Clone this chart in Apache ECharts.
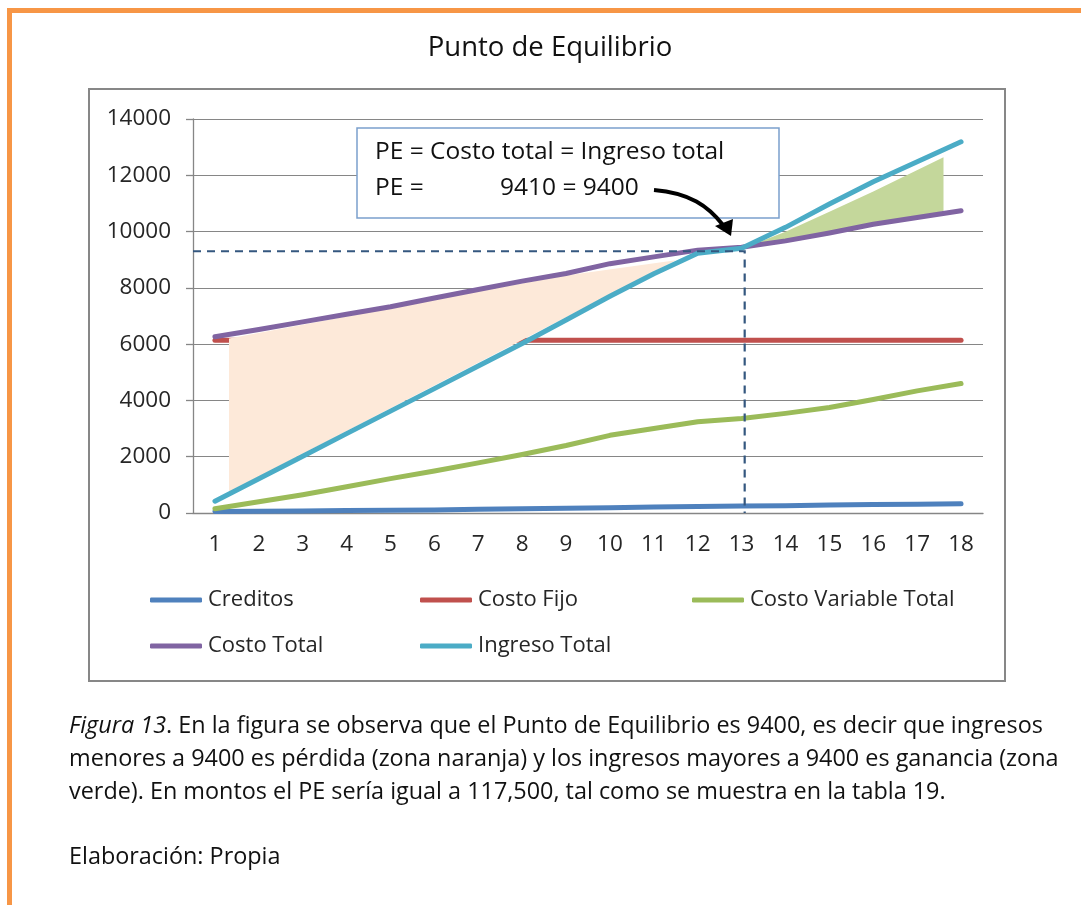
<!DOCTYPE html>
<html>
<head>
<meta charset="utf-8">
<title>Punto de Equilibrio</title>
<script src="https://cdn.jsdelivr.net/npm/echarts@6/dist/echarts.min.js"></script>
<style>
  html, body { margin: 0; padding: 0; background: #fff; }
  #main { width: 1081px; height: 905px; }
</style>
</head>
<body>
<div id="main"></div>
<script>
// datos
const categories = ['1', '2', '3', '4', '5', '6', '7', '8', '9', '10', '11', '12', '13', '14', '15', '16', '17', '18'];
const creditos = [50, 60, 70, 85, 95, 110, 130, 150, 170, 190, 210, 230, 250, 260, 280, 300, 315, 330];
const costoFijo = [6140, 6140, 6140, 6140, 6140, 6140, 6140, 6140, 6140, 6140, 6140, 6140, 6140, 6140, 6140, 6140, 6140, 6140];
const costoVariable = [150, 400, 650, 930, 1220, 1490, 1780, 2080, 2400, 2760, 3000, 3240, 3360, 3540, 3750, 4030, 4340, 4600];
const costoTotal = [6260, 6520, 6790, 7060, 7330, 7640, 7940, 8240, 8510, 8860, 9100, 9340, 9440, 9670, 9950, 10260, 10500, 10740];
const ingresoTotal = [420, 1220, 2020, 2820, 3620, 4420, 5220, 6020, 6860, 7700, 8500, 9230, 9410, 10150, 10980, 11770, 12480, 13190];
const yTicks = [0, 14000, 2000];

// zonas dibujadas a mano (x en unidades de categoria, y en valor)
const zonaPerdida = [[1.32, 6200], [4, 6980], [7, 7880], [9, 8440], [11.5, 8980], [1.32, 750]];
const zonaGanancia = [[13.05, 9420], [14, 9990], [15, 10700], [16, 11420], [17.6, 12640], [17.6, 10720], [16, 10200], [14, 9640]];
const lineaPE = [[0.5, 9300], [13.07, 9300], [13.07, 0]];

const seriesNames = ['Creditos', 'Costo Fijo', 'Costo Variable Total', 'Costo Total', 'Ingreso Total'];
const seriesData = [creditos, costoFijo, costoVariable, costoTotal, ingresoTotal];
const colors = ['#4f81bd', '#c0504d', '#9bbb59', '#8064a2', '#4bacc6'];

const FONT = 'Open Sans';
const chart = echarts.init(document.getElementById('main'), null, { renderer: 'canvas' });

function polygonItem(points, fill) {
  return function (params, api) {
    return {
      type: 'polygon',
      shape: { points: points.map(p => api.coord(p)) },
      style: { fill: fill }
    };
  };
}

const lineSeries = seriesNames.map((name, i) => ({
  name: name,
  type: 'line',
  data: seriesData[i],
  symbol: 'none',
  z: i === 1 ? 2 : 4,
  lineStyle: { width: 5, color: colors[i], cap: 'round', join: 'round' },
  itemStyle: { color: colors[i] }
}));

const legendPos = [[150, 588], [420, 588], [692, 588], [150, 634], [420, 634]];
const legends = seriesNames.map((name, i) => ({
  data: [name],
  left: legendPos[i][0],
  top: legendPos[i][1],
  padding: 0,
  icon: 'roundRect',
  itemWidth: 52,
  itemHeight: 5,
  itemGap: 0,
  selectedMode: false,
  textStyle: { fontFamily: FONT, fontSize: 22, color: '#262626', lineHeight: 24, padding: [0, 0, 0, 1] }
}));

const option = {
  animation: false,
  backgroundColor: '#ffffff',
  color: colors,
  legend: legends,
  grid: { left: 193, right: 98, top: 119, bottom: 392, containLabel: false },
  xAxis: [{
    type: 'category',
    data: categories,
    boundaryGap: true,
    axisLine: { lineStyle: { color: '#868686', width: 1.3 } },
    axisTick: { length: 7, lineStyle: { color: '#868686', width: 1.3 } },
    axisLabel: { margin: 20, fontFamily: FONT, fontSize: 22.5, color: '#262626' },
    splitLine: { show: false }
  }, {
    type: 'value',
    min: 0.5,
    max: 18.5,
    show: false
  }],
  yAxis: {
    type: 'value',
    min: yTicks[0],
    max: yTicks[1],
    interval: yTicks[2],
    axisLine: { show: true, lineStyle: { color: '#868686', width: 1.3 } },
    axisTick: { show: true, length: 7, lineStyle: { color: '#868686', width: 1.3 } },
    axisLabel: { margin: 22, fontFamily: FONT, fontSize: 22.5, color: '#262626', formatter: v => String(v) },
    splitLine: { lineStyle: { color: '#868686', width: 1.2 } }
  },
  series: lineSeries.concat([
    {
      type: 'custom',
      xAxisIndex: 1,
      z: 3,
      silent: true,
      data: [0],
      renderItem: polygonItem(zonaPerdida, '#fde9d9')
    },
    {
      type: 'custom',
      xAxisIndex: 1,
      z: 3,
      silent: true,
      data: [0],
      renderItem: polygonItem(zonaGanancia, '#c4d79b')
    },
    {
      type: 'custom',
      xAxisIndex: 1,
      z: 5,
      silent: true,
      data: [0],
      renderItem: function (params, api) {
        return {
          type: 'polyline',
          shape: { points: lineaPE.map(p => api.coord(p)) },
          style: { stroke: '#34577f', lineWidth: 2.2, lineDash: [8, 6], fill: null }
        };
      }
    }
  ]),
  graphic: [
    // marco naranja
    { type: 'rect', shape: { x: 7, y: 8, width: 1074, height: 5 }, style: { fill: '#f79646' }, z: 10 },
    { type: 'rect', shape: { x: 7, y: 8, width: 5, height: 897 }, style: { fill: '#f79646' }, z: 10 },
    // titulo
    { type: 'text', x: 550, y: 48, style: { text: 'Punto de Equilibrio', fontFamily: FONT, fontSize: 27.5, fill: '#111', align: 'center', verticalAlign: 'middle' } },
    // borde del grafico
    { type: 'rect', shape: { x: 89, y: 89, width: 916, height: 592 }, style: { fill: null, stroke: '#878787', lineWidth: 2 }, z: 1 },
    // cuadro de anotacion
    { type: 'rect', shape: { x: 357, y: 128, width: 422, height: 90 }, style: { fill: '#ffffff', stroke: '#7ba0cd', lineWidth: 1.5 }, z: 20 },
    { type: 'text', x: 375, y: 152, z: 21, style: { text: 'PE = Costo total = Ingreso total', fontFamily: FONT, fontSize: 24.5, fill: '#111', verticalAlign: 'middle' } },
    { type: 'text', x: 375, y: 188, z: 21, style: { text: 'PE =', fontFamily: FONT, fontSize: 24.5, fill: '#111', verticalAlign: 'middle' } },
    { type: 'text', x: 500, y: 188, z: 21, style: { text: '9410 = 9400', fontFamily: FONT, fontSize: 24.5, fill: '#111', verticalAlign: 'middle' } },
    // flecha
    { type: 'bezierCurve', z: 22, shape: { x1: 654, y1: 190, x2: 723, y2: 225, cpx1: 690, cpy1: 193, cpx2: 708, cpy2: 206 }, style: { stroke: '#000', lineWidth: 4, fill: null } },
    { type: 'polygon', z: 22, shape: { points: [[715, 226], [733, 219], [731, 236]] }, style: { fill: '#000' } },
    // texto al pie
    { type: 'text', x: 69, y: 726, style: {
        text: '{i|Figura 13}. En la figura se observa que el Punto de Equilibrio es 9400, es decir que ingresos',
        fontFamily: FONT, fontSize: 23.4, fill: '#111', verticalAlign: 'middle',
        rich: { i: { fontFamily: FONT, fontSize: 23.4, fontStyle: 'italic', fill: '#111' } } } },
    { type: 'text', x: 69, y: 759, style: { text: 'menores a 9400 es pérdida (zona naranja) y los ingresos mayores a 9400 es ganancia (zona', fontFamily: FONT, fontSize: 23.4, fill: '#111', verticalAlign: 'middle' } },
    { type: 'text', x: 69, y: 792, style: { text: 'verde). En montos el PE sería igual a 117,500, tal como se muestra en la tabla 19.', fontFamily: FONT, fontSize: 23.4, fill: '#111', verticalAlign: 'middle' } },
    { type: 'text', x: 69, y: 857, style: { text: 'Elaboración: Propia', fontFamily: FONT, fontSize: 23.4, fill: '#111', verticalAlign: 'middle' } }
  ]
};

chart.setOption(option);
</script>
</body>
</html>
